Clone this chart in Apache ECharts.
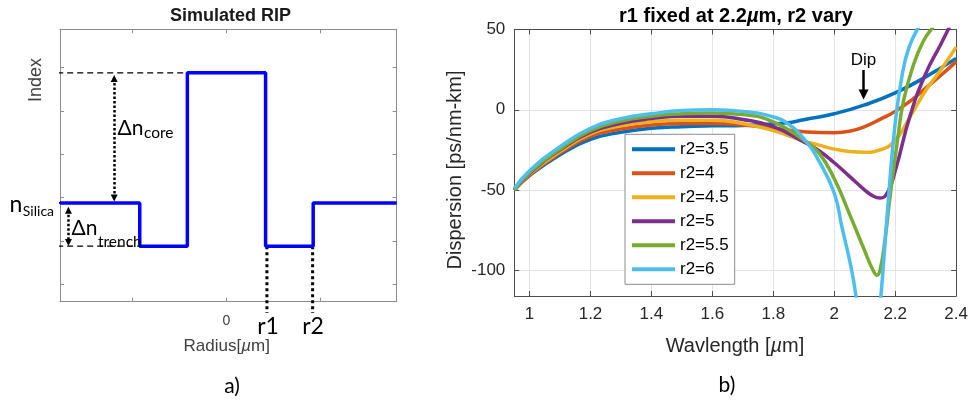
<!DOCTYPE html>
<html><head><meta charset="utf-8">
<script src="https://cdn.jsdelivr.net/npm/echarts@6/dist/echarts.min.js"></script>
<style>html,body{margin:0;padding:0;background:#fff}#c{width:971px;height:401px}</style>
</head><body><div id="c"></div>
<script>
// ---------- (a) Simulated refractive-index profile ----------
const ripRadius = [-8.85, -4.61, -4.61, -2.08, -2.08, 2.08, 2.08, 4.61, 4.61, 9.05];
const ripIndex  = [1.88, 1.88, 0.88, 0.88, 4.88, 4.88, 0.88, 0.88, 1.88, 1.88];
const ripXTicks = [-5, 0, 5];
const ripXLabels = [0];
const ripYTicks = [0, 1, 2, 3, 4, 5];
// annotation guides (data units)
const dashCore   = [[-9.0, 4.88], [-2.08, 4.88]];
const dashTrench = [[-9.0, 0.88], [-3.95, 0.88]];
const silicaTick = [[-9.2, 1.88], [-8.7, 1.88]];
const r1Guide    = [[2.15, 0.88], [2.15, -0.66]];
const r2Guide    = [[4.58, 0.88], [4.58, -0.66]];
const arrowCore   = [[-5.97, 1.99], [-5.97, 4.75]];
const arrowTrench = [[-8.4, 1.71], [-8.4, 0.965]];

// ---------- (b) Dispersion vs wavelength ----------
const seriesNames = ['r2=3.5', 'r2=4', 'r2=4.5', 'r2=5', 'r2=5.5', 'r2=6'];
const wl_35 = [0.95,1.0,1.1,1.2,1.3,1.4,1.5,1.6,1.7,1.8,1.85,1.9,2.0,2.1,2.2,2.3,2.4];
const D_35  = [-50,-41,-28,-18.5,-14,-11.5,-10.5,-10,-9.8,-8.7,-8,-6.2,-2.5,3,10.5,20.5,32];
const wl_4  = [0.95,1.0,1.1,1.2,1.3,1.4,1.5,1.6,1.7,1.8,1.85,1.9,1.95,2.0,2.05,2.1,2.15,2.2,2.25,2.3,2.35,2.4];
const D_4   = [-50,-40.5,-27,-16.5,-12,-9.5,-8.5,-8.5,-9.5,-11.5,-12.8,-13.7,-14.2,-14.3,-13.4,-10.5,-6,-1,5.5,13.5,21.5,30];
const wl_45 = [0.95,1.0,1.1,1.2,1.3,1.4,1.5,1.6,1.7,1.8,1.9,1.95,2.0,2.05,2.1,2.15,2.2,2.25,2.3,2.35,2.4];
const D_45  = [-50,-40,-26,-15,-10,-7.5,-6.5,-6.5,-8.5,-13,-19.5,-22,-24.5,-26,-26.5,-25,-19,-4,12,25,39];
const wl_5  = [0.95,1.0,1.1,1.2,1.3,1.4,1.5,1.6,1.7,1.8,1.9,1.95,2.0,2.05,2.1,2.125,2.15,2.175,2.2,2.25,2.3,2.35,2.4];
const D_5   = [-50,-39.5,-25,-14,-8.5,-5.5,-4,-4,-6,-10.5,-20,-25.5,-33,-41.5,-50,-53.5,-55,-51.5,-38,-3,22.5,41,60];
const wl_55 = [0.95,1.0,1.1,1.2,1.3,1.4,1.5,1.6,1.7,1.8,1.9,1.95,2.0,2.05,2.1,2.125,2.14,2.15,2.165,2.185,2.207,2.227,2.26,2.293,2.326,2.35];
const D_55  = [-50,-39,-24.5,-13,-7,-4,-2.5,-2,-3,-7.5,-19,-27,-43,-65,-88,-99,-103,-100,-83,-51,-19.6,5.4,28,43,52,58];
const wl_6  = [0.95,1.0,1.1,1.2,1.3,1.4,1.5,1.6,1.7,1.8,1.85,1.9,1.95,2.0,2.025,2.055,2.071,2.09,2.11,2.13,2.153,2.175,2.2,2.223,2.245,2.278,2.3];
const D_6   = [-49,-38,-23,-11.5,-5.5,-2.5,-0.5,0,-1,-4.5,-9,-18,-32,-52,-73,-98,-116,-145,-165,-160,-116,-62,-8,22,38.7,52,58];
const dispXTicks = [1, 1.2, 1.4, 1.6, 1.8, 2, 2.2, 2.4];
const dispYTicks = [-100, -50, 0, 50];
const dipArrow = [[2.096, 24.8], [2.096, 9.5]];
const dipLabelPos = [2.096, 31];

const colors = ['#0072BD', '#D95319', '#EDB120', '#7E2F8E', '#77AC30', '#4DBEEE'];
const pairs = (xs, ys) => xs.map((x, i) => [x, ys[i]]);
const dispData = [pairs(wl_35, D_35), pairs(wl_4, D_4), pairs(wl_45, D_45), pairs(wl_5, D_5), pairs(wl_55, D_55), pairs(wl_6, D_6)];

const AX = 'Liberation Sans, Arial, sans-serif';
const CAL = 'Lato, Open Sans, sans-serif';

const chart = echarts.init(document.getElementById('c'), null, {renderer: 'canvas'});

function ripX(pos, showLabel) {
  return {
    type: 'value', gridIndex: 0, min: -8.85, max: 9.05, position: pos,
    axisLine: {show: true, onZero: false, lineStyle: {color: '#8c8c8c', width: 1}},
    axisTick: {show: true, inside: true, length: 4, customValues: ripXTicks, lineStyle: {color: '#8c8c8c'}},
    axisLabel: {show: showLabel, customValues: ripXLabels, margin: 12, fontSize: 14, fontFamily: AX, color: '#404040'},
    splitLine: {show: false}
  };
}
function ripY(pos) {
  return {
    type: 'value', gridIndex: 0, min: -0.4, max: 5.885, position: pos,
    axisLine: {show: true, onZero: false, lineStyle: {color: '#8c8c8c', width: 1}},
    axisTick: {show: true, inside: true, length: 4, customValues: ripYTicks, lineStyle: {color: '#8c8c8c'}},
    axisLabel: {show: false}, splitLine: {show: false}
  };
}
function dX(pos, showLabel) {
  return {
    type: 'value', gridIndex: 1, min: 0.95, max: 2.4, position: pos,
    axisLine: {show: true, onZero: false, lineStyle: {color: '#4d4d4d', width: 1}},
    axisTick: {show: true, inside: true, length: 5, customValues: dispXTicks, lineStyle: {color: '#4d4d4d'}},
    axisLabel: {show: showLabel, customValues: dispXTicks, margin: 10, fontSize: 17, fontFamily: AX, color: '#262626'},
    splitLine: {show: showLabel, lineStyle: {color: '#e3e3e3', width: 1}}
  };
}
function dY(pos, showLabel) {
  return {
    type: 'value', gridIndex: 1, min: -116, max: 50, position: pos,
    axisLine: {show: true, onZero: false, lineStyle: {color: '#4d4d4d', width: 1}},
    axisTick: {show: true, inside: true, length: 5, customValues: dispYTicks, lineStyle: {color: '#4d4d4d'}},
    axisLabel: {show: showLabel, customValues: dispYTicks, margin: 9, fontSize: 17, fontFamily: AX, color: '#262626'},
    splitLine: {show: showLabel, lineStyle: {color: '#e3e3e3', width: 1}}
  };
}
function guide(data, style) {
  return {type: 'line', xAxisIndex: 0, yAxisIndex: 0, data: data, showSymbol: false, clip: false,
          silent: true, z: 3, lineStyle: Object.assign({color: '#000'}, style)};
}
function arrow(coords, xi, yi, style, sym, size) {
  return {type: 'lines', coordinateSystem: 'cartesian2d', xAxisIndex: xi, yAxisIndex: yi, silent: true, z: 6,
          symbol: sym, symbolSize: size,
          lineStyle: Object.assign({color: '#000', opacity: 1, curveness: 0}, style),
          itemStyle: {color: '#000'},
          data: [{coords: coords}]};
}

const dispSeries = seriesNames.map((n, i) => ({
  name: n, type: 'line', xAxisIndex: 2, yAxisIndex: 2, data: dispData[i],
  smooth: 0.5, showSymbol: false, clip: true, z: 2 + i * 0.01,
  lineStyle: {color: colors[i], width: 3.5}, itemStyle: {color: colors[i]}
}));

chart.setOption({
  animation: false,
  backgroundColor: '#fff',
  grid: [
    {left: 60, top: 29.3, width: 336.7, height: 272.4},
    {left: 514.3, top: 29.5, width: 443.7, height: 266.5}
  ],
  xAxis: [ripX('bottom', true), ripX('top', false), dX('bottom', true), dX('top', false)],
  yAxis: [ripY('left'), ripY('right'), dY('left', true), dY('right', false)],
  legend: {
    left: 625, top: 134.3, orient: 'vertical', data: seriesNames, icon: 'rect',
    itemWidth: 43, itemHeight: 4, itemGap: 4, padding: [5, 6, 5, 7],
    borderColor: '#8c8c8c', borderWidth: 1, backgroundColor: '#fff', selectedMode: false,
    textStyle: {fontFamily: AX, fontSize: 17, color: '#000', lineHeight: 20}
  },
  series: [
    {type: 'line', xAxisIndex: 0, yAxisIndex: 0, data: pairs(ripRadius, ripIndex), showSymbol: false,
     lineStyle: {color: '#0000ff', width: 3.5}, z: 4, silent: true},
    guide(dashCore, {width: 1.3, type: [6, 4]}),
    guide(dashTrench, {width: 1.3, type: [6, 4]}),
    guide(silicaTick, {width: 2, type: 'solid'}),
    guide(r1Guide, {width: 3, type: [3, 3]}),
    guide(r2Guide, {width: 3, type: [3, 3]}),
    arrow(arrowCore, 0, 0, {width: 2.5, type: [2.5, 2]}, ['triangle', 'triangle'], 7),
    arrow(arrowTrench, 0, 0, {width: 2.5, type: [2.5, 2]}, ['triangle', 'triangle'], 7),
    ...dispSeries,
    arrow(dipArrow, 2, 2, {width: 2.5, type: 'solid'}, ['none', 'triangle'], [11, 10])
  ]
});

const dipPx = chart.convertToPixel({xAxisIndex: 2, yAxisIndex: 2}, dipLabelPos);

// measure widths so that subscripts follow their base text
const mctx = document.createElement('canvas').getContext('2d');
function tw(text, font) { mctx.font = font; return mctx.measureText(text).width; }

function txt(x, y, text, font, opts) {
  return Object.assign({type: 'text', x: x, y: y, silent: true, z: 100,
    style: Object.assign({text: text, font: font, fill: '#000', align: 'center', verticalAlign: 'middle'}, (opts && opts.style) || {})},
    (opts && opts.el) || {});
}
function subText(x, yBase, base, sub, fBase, fSub, ySub) {
  const w = tw(base, fBase);
  return [
    txt(x, yBase, base, fBase, {style: {align: 'left'}}),
    txt(x + w + 0.5, ySub, sub, fSub, {style: {align: 'left'}})
  ];
}

const FB = '21px ' + CAL, FS = '15.5px ' + CAL;
chart.setOption({
  graphic: [
    txt(230.5, 16, 'Simulated RIP', 'bold 18px ' + AX, {style: {fill: '#1a1a1a'}}),
    {type: 'text', x: 736, y: 16, silent: true, z: 100, style: {
      text: '{a|r1 fixed at 2.2}{m|\u00b5}{a|m, r2 vary}', align: 'center', verticalAlign: 'middle',
      rich: {a: {font: 'bold 20px ' + AX, fill: '#000'}, m: {font: 'italic bold 20px ' + AX, fill: '#000'}}}},
    txt(36, 80, 'Index', '18px ' + AX, {style: {fill: '#404040'}, el: {rotation: Math.PI / 2}}),
    {type: 'text', x: 226.7, y: 346.7, silent: true, z: 100, style: {
      text: '{a|Radius[}{m|\u00b5}{a|m]}', align: 'center', verticalAlign: 'middle',
      rich: {a: {font: '17px ' + AX, fill: '#404040'}, m: {font: 'italic 17px ' + AX, fill: '#404040'}}}},
    txt(455, 170, 'Dispersion [ps/nm-km]', '20px ' + AX, {style: {fill: '#262626'}, el: {rotation: Math.PI / 2}}),
    {type: 'text', x: 735, y: 346, silent: true, z: 100, style: {
      text: '{a|Wavlength [}{m|\u00b5}{a|m]}', align: 'center', verticalAlign: 'middle',
      rich: {a: {font: '20px ' + AX, fill: '#262626'}, m: {font: 'italic 20px ' + AX, fill: '#262626'}}}},
    txt(dipPx[0], dipPx[1], 'Dip', '17px ' + AX),
    // RIP annotations
    ...subText(117.5, 128, '\u0394n', 'core', FB, FS, 132.5),
    ...subText(71.5, 228, '\u0394n', 'trench', FB, FS, 241.5),
    ...subText(9.5, 205, 'n', 'Silica', '23px ' + CAL, '14px ' + CAL, 211.5),
    txt(268, 327, 'r1', '23px ' + CAL),
    txt(313, 327, 'r2', '23px ' + CAL),
    txt(232, 386, 'a)', '21px ' + CAL),
    txt(727, 385, 'b)', '21px ' + CAL)
  ]
});
</script>
</body></html>
